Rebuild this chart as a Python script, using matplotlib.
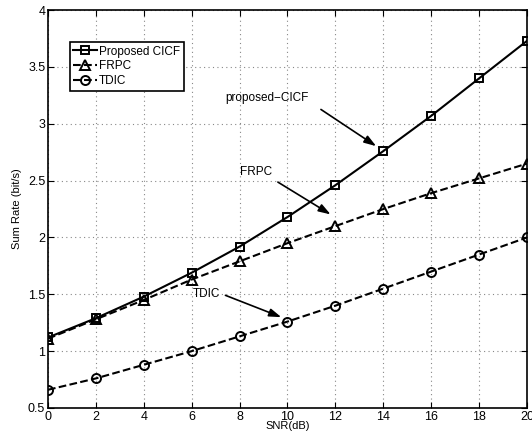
import matplotlib
matplotlib.use("Agg")
import matplotlib.pyplot as plt

plt.rcParams['font.family'] = ['Liberation Sans', 'DejaVu Sans']
plt.rcParams['font.size'] = 8

snr = [0, 2, 4, 6, 8, 10, 12, 14, 16, 18, 20]
cicf = [1.12, 1.29, 1.48, 1.69, 1.92, 2.18, 2.46, 2.76, 3.07, 3.40, 3.73]
frpc = [1.11, 1.28, 1.45, 1.63, 1.79, 1.95, 2.10, 2.25, 2.39, 2.52, 2.65]
tdic = [0.66, 0.76, 0.88, 1.00, 1.13, 1.26, 1.40, 1.55, 1.70, 1.85, 2.00]

fig = plt.figure(figsize=(5.32, 4.42), dpi=100)
ax = fig.add_axes([0.0902, 0.077, 0.9004, 0.9])

ax.plot(snr, cicf, 'k-', marker='s', mfc='none', mew=1.4, ms=6, lw=1.5, label='Proposed CICF')
ax.plot(snr, frpc, 'k--', marker='^', mfc='none', mew=1.4, ms=7.5, lw=1.5, label='FRPC')
ax.plot(snr, tdic, 'k--', marker='o', mfc='none', mew=1.4, ms=6.5, lw=1.5, label='TDIC')

ax.set_xlim(0, 20)
ax.set_ylim(0.5, 4)
ax.set_xticks(range(0, 21, 2))
ax.set_yticks([0.5, 1, 1.5, 2, 2.5, 3, 3.5, 4])
ax.set_yticklabels(['0.5', '1', '1.5', '2', '2.5', '3', '3.5', '4'])
ax.tick_params(direction='in', length=4, top=True, right=True, labelsize=9, pad=2)
ax.grid(True, linestyle=(0, (1, 3)), color='#888888', lw=0.8)
for s in ax.spines.values():
    s.set_linewidth(1.2)

ax.set_xlabel('SNR(dB)', fontsize=8, labelpad=-1)
ax.set_ylabel('Sum Rate (bit/s)', fontsize=8, labelpad=4)

leg = ax.legend(loc='upper left', bbox_to_anchor=(0.045, 0.92), fancybox=False,
                edgecolor='k', framealpha=1, fontsize=8.5, handlelength=2.0,
                handletextpad=0.2, borderpad=0.3, labelspacing=0.25, borderaxespad=0)
leg.get_frame().set_linewidth(1.2)

arr = dict(arrowstyle='-|>,head_length=0.6,head_width=0.2', color='k', lw=1.2, mutation_scale=12)
ax.annotate('', xy=(13.8, 2.79), xytext=(11.3, 3.14), arrowprops=arr)
ax.text(7.4, 3.23, 'proposed\u2212CICF', fontsize=8.5, va='center')
ax.annotate('', xy=(11.9, 2.19), xytext=(9.5, 2.5), arrowprops=arr)
ax.text(8.0, 2.58, 'FRPC', fontsize=8.5, va='center')
ax.annotate('', xy=(9.85, 1.29), xytext=(7.3, 1.5), arrowprops=arr)
ax.text(6.05, 1.5, 'TDIC', fontsize=8.5, va='center')

fig.savefig('out.png', dpi=100)
